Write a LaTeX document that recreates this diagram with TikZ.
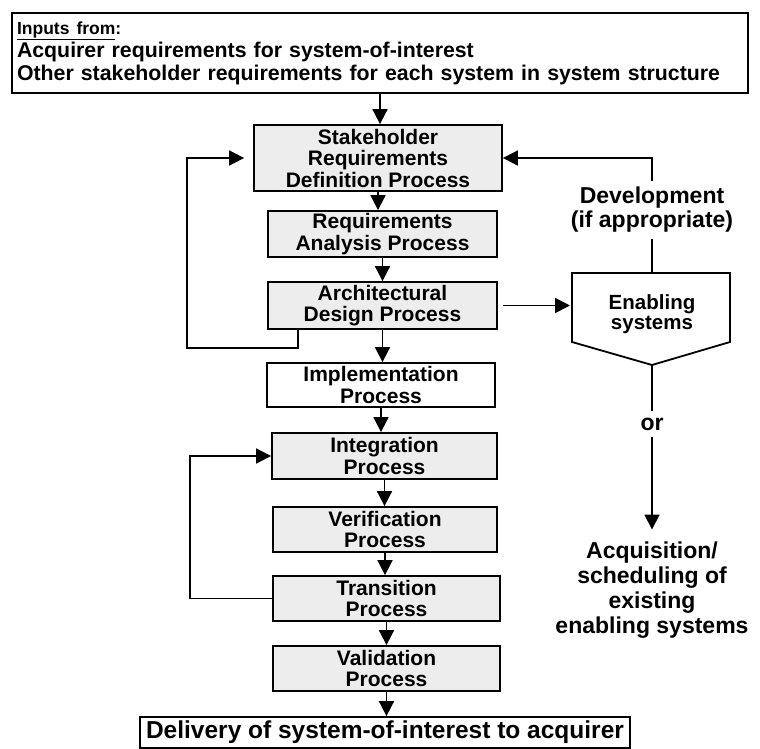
\documentclass[tikz,border=0pt]{standalone}
\usepackage{fontspec}
\setmainfont{Liberation Sans}
\usetikzlibrary{arrows.meta}

\begin{document}
\begin{tikzpicture}[x=1pt,y=-1pt,
  proc/.style={draw,line width=1.8pt,fill=gray!14,align=center,inner sep=0pt,
    font=\bfseries\fontsize{21}{21.5}\selectfont},
  label/.style={align=center,inner sep=6pt,font=\bfseries\fontsize{23}{24}\selectfont},
  arr/.style={line width=1.8pt,-{Triangle[length=15pt,width=15pt]}},
  link/.style={line width=1.8pt}]
\useasboundingbox (0,0) rectangle (760,749);
\node[draw,line width=1.8pt,minimum width=736pt,minimum height=80pt,text width=726pt,
  align=left,inner sep=0pt,font=\bfseries\fontsize{21.3}{23}\selectfont] (inputs) at (380,53)
  {{\fontsize{17.5}{16}\selectfont\underline{Inputs from}:}\\
   Acquirer requirements for system-of-interest\\
   Other stakeholder requirements for each system in system structure};
\node[proc,minimum width=248pt,minimum height=66pt] (stake) at (378,158) {Stakeholder\\Requirements\\Definition Process};
\node[proc,minimum width=229pt,minimum height=46pt] (reqan) at (382.5,234) {Requirements\\Analysis Process};
\node[proc,minimum width=229pt,minimum height=47pt] (arch) at (382.5,305.5) {Architectural\\Design Process};
\node[proc,fill=white,minimum width=228pt,minimum height=44pt] (impl) at (381,385) {Implementation\\Process};
\node[proc,minimum width=225pt,minimum height=46pt] (integ) at (384.5,456) {Integration\\Process};
\node[proc,minimum width=224pt,minimum height=45pt] (verif) at (385,529.5) {Verification\\Process};
\node[proc,minimum width=227pt,minimum height=45pt] (trans) at (386.5,598.5) {Transition\\Process};
\node[proc,minimum width=227pt,minimum height=45pt] (valid) at (386.5,668.5) {Validation\\Process};
\node[draw,line width=1.8pt,minimum width=490pt,minimum height=31pt,inner sep=0pt,
  font=\bfseries\fontsize{24.5}{24}\selectfont] (deliv) at (385,732.5) {Delivery of system-of-interest to acquirer};
% enabling systems
\coordinate (ensTL) at (572,273);
\coordinate (ensTR) at (730,273);
\coordinate (ensBR) at (730,342);
\coordinate (ensB) at (652,365);
\coordinate (ensBL) at (572,342);
\draw [line width=1.8pt] (ensTL) -- (ensTR) -- (ensBR) -- (ensB) -- (ensBL) -- cycle;
\node[align=center,inner sep=0pt,font=\bfseries\fontsize{20.5}{20}\selectfont] (ens) at (652,314) {Enabling\\systems};
\node[label] (dev) at (652,210) {Development\\(if appropriate)};
\node[label] (or) at (652,424) {or};
\node[label,font=\bfseries\fontsize{23}{25}\selectfont] (acq) at (652,590) {Acquisition/\\scheduling of\\existing\\enabling systems};
\coordinate (loopA) at (298,348);
\coordinate (loopB) at (187,0);
\coordinate (loopC) at (190,0);
\foreach \a/\b in {inputs/stake,stake/reqan,reqan/arch,arch/impl,impl/integ,integ/verif,verif/trans,trans/valid,valid/deliv}
  \draw [arr] (\a.south) -- (\a.south |- \b.north);
\draw [arr,shorten >=9pt] (arch.south -| loopA) -- (loopA) -- (loopA -| loopB) |- (stake.west);
\draw [arr] (trans.west) -- (trans.west -| loopC) |- (integ.west);
\draw [arr,shorten <=5pt,shorten >=2pt] (arch.east) -- (arch.east -| ensTL);
\draw [link] (ensTL -| ensB) -- (dev.south);
\draw [arr] (dev.north) |- (stake.east);
\draw [link] (ensB) -- (or.north);
\draw [arr,shorten >=6pt] (or.south) -- (acq.north);
\end{tikzpicture}
\end{document}
